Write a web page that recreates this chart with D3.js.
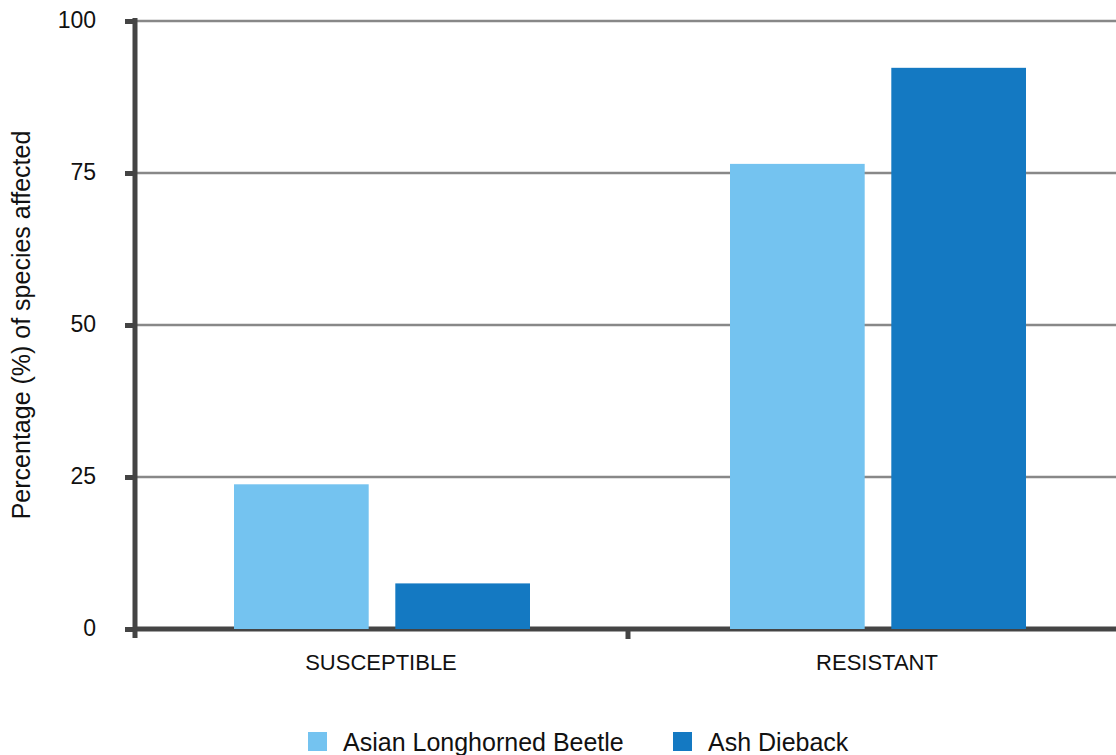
<!DOCTYPE html>
<html>
<head>
<meta charset="utf-8">
<script src="https://cdn.jsdelivr.net/npm/d3@7"></script>
<style>
  html, body { margin: 0; padding: 0; background: #fff; }
  svg { display: block; font-family: "Liberation Sans", Arial, Helvetica, sans-serif; }
</style>
</head>
<body>
<svg id="chart" width="1116" height="755"></svg>
<script>
// Share of tree species affected, by resistance class and threat
const categories = ["SUSCEPTIBLE", "RESISTANT"];
const seriesNames = ["Asian Longhorned Beetle", "Ash Dieback"];
const beetleValues = [23.8, 76.5];
const diebackValues = [7.5, 92.3];
const yTicks = [0, 25, 50, 75, 100];
const seriesColors = ["#74c3f0", "#1479c2"];

const rows = categories.map((c, i) => ({
  category: c,
  values: [beetleValues[i], diebackValues[i]]
}));

const svg = d3.select("#chart");
const plot = { left: 135, right: 1126, top: 21, bottom: 629 };

const x0 = d3.scaleBand().domain(categories).range([plot.left - 1, plot.right]).padding(0);
const x1 = d3.scaleBand().domain(seriesNames).range([0, x0.bandwidth()])
  .paddingInner(0.165).paddingOuter(0.62);
const y = d3.scaleLinear().domain([0, 100]).range([plot.bottom, plot.top]);

// horizontal gridlines
svg.append("g")
  .selectAll("line")
  .data(yTicks.filter(t => t > 0))
  .join("line")
  .attr("x1", plot.left).attr("x2", 1116)
  .attr("y1", d => y(d)).attr("y2", d => y(d))
  .attr("stroke", "#888").attr("stroke-width", 2.5);

// y axis
const yAxis = svg.append("g")
  .attr("transform", `translate(${plot.left},0)`)
  .call(d3.axisLeft(y).tickValues(yTicks).tickSize(10).tickPadding(29).tickFormat(d3.format("d")));
yAxis.select(".domain").remove();
yAxis.selectAll(".tick line").attr("stroke", "#444").attr("stroke-width", 5);
yAxis.selectAll(".tick text")
  .attr("fill", "#111").attr("font-size", 23)
  .attr("dy", "0.3em");
svg.append("line")
  .attr("x1", plot.left).attr("x2", plot.left)
  .attr("y1", y(100) - 3).attr("y2", plot.bottom + 9)
  .attr("stroke", "#444").attr("stroke-width", 5);

// x axis
svg.append("line")
  .attr("x1", plot.left).attr("x2", 1116)
  .attr("y1", plot.bottom).attr("y2", plot.bottom)
  .attr("stroke", "#444").attr("stroke-width", 5);
svg.append("g")
  .selectAll("line")
  .data(categories.slice(1))
  .join("line")
  .attr("x1", d => x0(d) - 2).attr("x2", d => x0(d) - 2)
  .attr("y1", plot.bottom).attr("y2", plot.bottom + 10)
  .attr("stroke", "#444").attr("stroke-width", 5);

svg.append("g")
  .selectAll("text")
  .data(categories)
  .join("text")
  .attr("x", d => x0(d) + x0.bandwidth() / 2 - 1)
  .attr("y", 670)
  .attr("text-anchor", "middle")
  .attr("font-size", 22)
  .attr("fill", "#111")
  .text(d => d);

// bars
svg.append("g")
  .selectAll("g")
  .data(rows)
  .join("g")
  .attr("transform", d => `translate(${x0(d.category)},0)`)
  .selectAll("rect")
  .data(d => d.values.map((v, i) => ({ name: seriesNames[i], value: v, i })))
  .join("rect")
  .attr("x", d => x1(d.name))
  .attr("width", x1.bandwidth())
  .attr("y", d => y(d.value))
  .attr("height", d => y(0) - y(d.value))
  .attr("fill", d => seriesColors[d.i]);

// y axis title
svg.append("text")
  .attr("transform", `translate(30,${(plot.top + plot.bottom) / 2}) rotate(-90)`)
  .attr("text-anchor", "middle")
  .attr("font-size", 25)
  .attr("fill", "#111")
  .text("Percentage (%) of species affected");

// legend
const legendX = [308, 673];
const legend = svg.append("g")
  .selectAll("g")
  .data(seriesNames)
  .join("g")
  .attr("transform", (d, i) => `translate(${legendX[i]},732)`);
legend.append("rect")
  .attr("width", 19).attr("height", 19)
  .attr("fill", (d, i) => seriesColors[i]);
legend.append("text")
  .attr("x", 35).attr("y", 19)
  .attr("font-size", 25)
  .attr("fill", "#111")
  .text(d => d);
</script>
</body>
</html>
